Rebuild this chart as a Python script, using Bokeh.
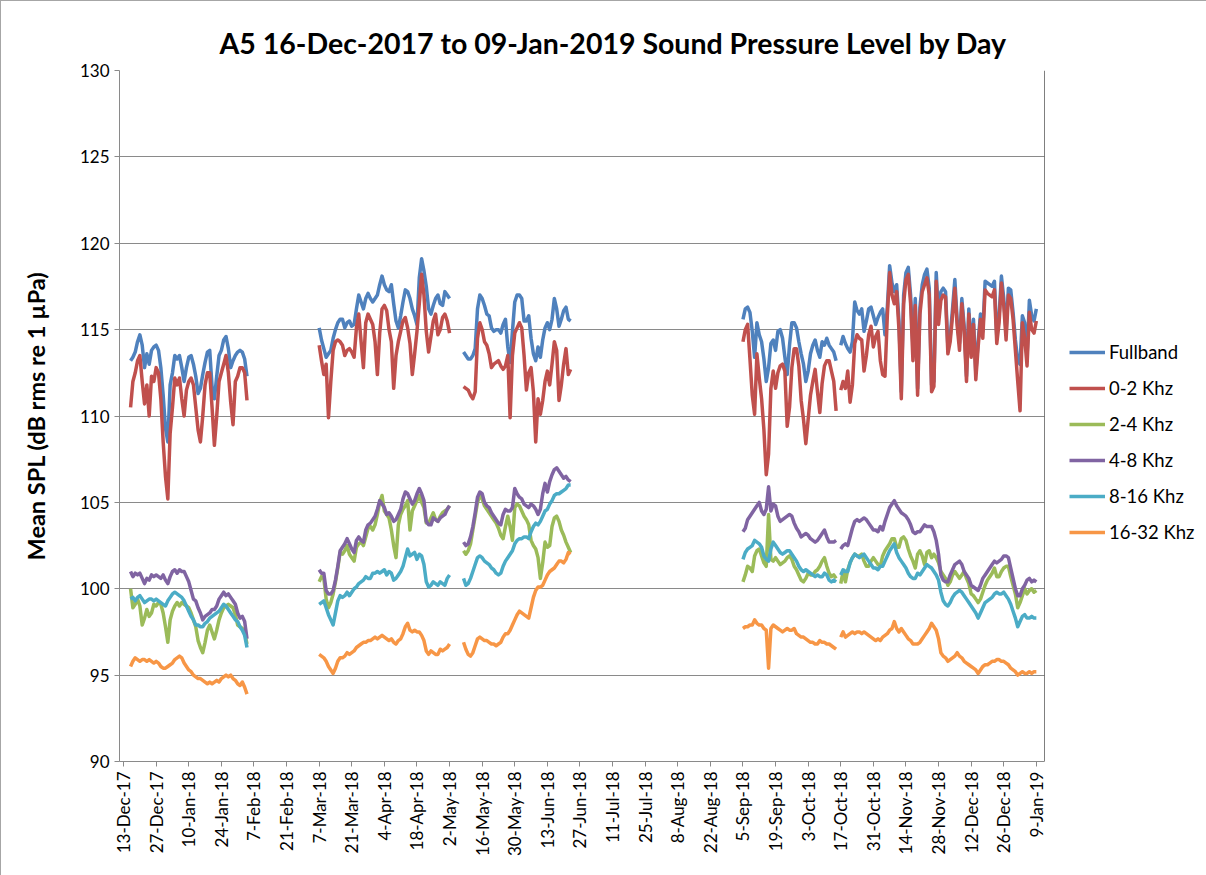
import numpy as np
import pandas as pd
from bokeh.plotting import figure
from bokeh.layouts import row
from bokeh.models import Legend, LegendItem, FixedTicker, Range1d, Span, ColumnDataSource
from bokeh.embed import file_html
from bokeh.resources import INLINE

# Recording periods (first day of each continuous block of daily means)
SEG_STARTS = ["2017-12-16", "2018-03-07", "2018-05-08", "2018-09-05", "2018-10-17"]

# ---- Fullband ----
FULL_1 = [113.2, 113.4, 113.7, 114.3, 114.7, 114.1, 112.8, 113.6, 113.0, 113.8,
          114.0, 114.1, 113.8, 112.8, 111.2, 109.3, 108.5, 111.8, 112.5, 113.5,
          113.3, 113.5, 112.8, 112.0, 112.8, 113.4, 113.5, 113.0, 112.3, 111.3,
          111.6, 112.4, 113.1, 113.7, 113.8, 111.7, 111.0, 112.3, 113.5, 113.8,
          114.4, 114.6, 113.9, 112.8, 113.2, 113.5, 113.7, 113.8, 113.7, 113.3, 112.3]
FULL_2 = [115.1, 114.4, 113.9, 113.4, 113.6, 113.8, 114.5, 115.0, 115.4, 115.6,
          115.6, 115.1, 115.4, 115.5, 115.2, 115.3, 116.2, 117.0, 116.6, 116.2,
          116.8, 117.1, 116.8, 116.6, 116.8, 117.0, 117.6, 118.1, 117.6, 117.3,
          117.2, 117.6, 116.5, 115.5, 115.1, 115.8, 116.6, 117.3, 117.2, 116.8,
          116.2, 115.8, 115.3, 118.0, 119.1, 118.4, 117.5, 116.2, 115.9, 116.4,
          116.8, 117.0, 116.5, 116.4, 117.2, 117.0, 116.8]
FULL_3 = [113.7, 113.5, 113.3, 113.3, 113.5, 113.9, 116.2, 117.0, 116.8, 116.4,
          115.9, 115.8, 115.1, 114.9, 115.0, 115.0, 114.8, 115.3, 115.6, 114.0,
          113.1, 114.9, 116.6, 117.0, 117.0, 116.8, 115.5, 115.5, 115.8, 114.5,
          113.6, 113.2, 114.0, 113.4, 114.4, 115.1, 115.4, 115.0, 115.6, 116.8,
          116.2, 115.2, 115.6, 116.1, 116.3, 115.6, 115.5]
FULL_4 = [115.6, 116.2, 116.3, 116.0, 114.9, 113.4, 115.4, 114.7, 114.3, 113.3,
          112.0, 112.8, 114.2, 114.4, 113.8, 114.9, 115.0, 114.5, 113.4, 112.4,
          114.1, 115.4, 115.4, 115.1, 114.3, 113.6, 113.0, 112.0, 112.6, 113.6,
          114.1, 114.4, 113.8, 113.4, 114.3, 114.1, 114.5, 114.1, 113.9, 113.7, 113.2]
FULL_5 = [114.1, 114.6, 114.2, 113.9, 113.7, 114.3, 116.6, 116.1, 115.9, 116.2,
          114.9, 115.5, 116.2, 116.3, 115.8, 115.3, 115.7, 116.0, 116.2, 114.7,
          116.3, 118.7, 117.7, 117.2, 117.6, 115.5, 111.4, 117.0, 118.3, 118.6,
          117.0, 114.0, 116.8, 111.6, 116.3, 117.6, 118.2, 118.5, 117.4, 111.8,
          112.0, 118.3, 115.7, 117.2, 117.4, 117.2, 114.0, 114.6, 116.2, 117.9,
          115.5, 114.2, 116.8, 115.2, 112.3, 116.2, 113.8, 115.6, 112.5, 114.3,
          115.9, 114.9, 117.8, 117.7, 117.6, 117.5, 117.8, 114.6, 115.8, 118.1,
          116.8, 114.8, 117.4, 117.3, 116.0, 114.4, 113.2, 113.0, 115.8, 115.4,
          113.4, 116.7, 115.8, 115.5, 116.2]

# ---- 0-2 kHz ----
B02_1 = [110.5, 112.0, 112.5, 113.2, 113.5, 112.0, 110.7, 111.8, 110.0, 112.3,
         112.0, 112.8, 112.5, 111.0, 108.5, 106.5, 105.2, 109.0, 110.5, 112.2,
         111.8, 112.2, 111.0, 110.0, 111.5, 112.0, 112.2, 111.8, 110.5, 109.2,
         108.5, 110.0, 111.8, 112.5, 112.5, 110.5, 108.3, 110.0, 112.0, 112.5,
         113.0, 113.5, 112.5, 110.8, 109.5, 112.0, 112.3, 112.8, 112.8, 112.5, 110.9]
B02_2 = [114.1, 113.2, 112.4, 113.0, 109.9, 112.0, 113.8, 114.3, 114.4, 114.3,
         114.1, 113.5, 113.8, 113.9, 113.7, 113.4, 115.1, 115.9, 114.3, 112.8,
         115.4, 115.9, 115.6, 115.3, 114.3, 112.4, 114.8, 116.2, 116.4, 116.1,
         115.0, 114.3, 111.6, 113.5, 114.3, 114.9, 115.5, 115.7, 115.1, 114.2,
         112.4, 113.6, 114.9, 116.5, 118.2, 117.0, 114.9, 113.7, 114.6, 115.5,
         115.9, 114.7, 115.0, 115.7, 115.9, 115.5, 114.8]
B02_3 = [111.7, 111.6, 111.5, 111.2, 111.0, 111.4, 114.5, 115.4, 115.0, 114.3,
         114.1, 113.6, 112.8, 113.0, 113.1, 113.2, 112.9, 112.7, 112.9, 113.5,
         109.9, 113.5, 114.8, 115.1, 115.4, 115.1, 113.5, 111.5, 112.5, 112.8,
         111.4, 108.5, 111.0, 110.1, 110.9, 112.0, 112.6, 111.8, 113.0, 114.3,
         113.8, 110.9, 111.8, 113.0, 113.9, 112.4, 112.7]
B02_4 = [114.3, 115.0, 115.3, 113.3, 111.2, 110.1, 113.6, 112.2, 111.0, 109.2,
         106.6, 107.8, 111.6, 112.6, 111.6, 112.5, 112.9, 113.0, 112.6, 109.4,
         110.5, 112.8, 113.9, 113.9, 112.9, 110.9, 109.8, 108.4, 109.8, 111.2,
         112.0, 112.7, 111.4, 110.2, 111.9, 112.9, 113.2, 113.2, 112.6, 112.0, 110.3]
B02_5 = [111.5, 112.0, 111.6, 112.6, 110.8, 111.8, 114.2, 114.7, 114.5, 114.4,
         112.6, 113.5, 114.7, 115.2, 114.0, 114.6, 114.9, 113.2, 112.4, 112.3,
         115.8, 118.3, 117.0, 116.5, 117.2, 115.0, 111.0, 116.5, 117.9, 118.2,
         116.5, 113.2, 116.4, 111.2, 115.9, 117.2, 117.6, 118.0, 117.0, 111.4,
         111.7, 117.8, 115.3, 116.7, 117.0, 116.9, 113.6, 114.3, 115.8, 117.4,
         115.2, 113.8, 116.5, 114.9, 112.0, 115.9, 113.4, 115.3, 112.1, 114.0,
         115.6, 114.5, 117.3, 117.1, 117.0, 116.9, 117.3, 114.2, 115.4, 117.7,
         116.4, 114.4, 117.0, 116.8, 115.6, 113.8, 112.0, 110.3, 115.4, 114.5,
         112.9, 116.0, 115.0, 114.8, 115.5]

# ---- 2-4 kHz ----
B24_1 = [100.0, 98.9, 99.1, 99.4, 99.0, 97.9, 98.3, 98.8, 98.4, 98.6,
         99.1, 99.0, 99.2, 99.1, 98.6, 97.8, 96.9, 98.2, 98.7, 99.0,
         99.2, 99.0, 99.2, 99.1, 99.0, 98.9, 98.6, 98.2, 97.8, 97.0,
         96.6, 96.3, 96.9, 97.6, 97.9, 97.5, 97.1, 97.6, 98.2, 98.6,
         98.9, 99.0, 99.1, 99.0, 98.9, 98.5, 97.9, 97.8, 97.7, 97.5, 96.8]
B24_2 = [100.4, 100.7, 100.6, 99.4, 98.9, 99.2, 99.7, 100.4, 101.2, 102.1,
         102.0, 102.2, 102.5, 102.0, 101.8, 101.6, 102.4, 102.6, 102.7, 102.5,
         103.0, 103.5, 103.6, 103.4, 103.7, 104.3, 105.0, 105.4, 104.5, 104.3,
         104.1, 103.4, 102.5, 101.8, 103.7, 104.3, 104.6, 104.8, 105.1, 103.4,
         104.5, 104.8, 105.1, 105.4, 105.0, 104.7, 103.8, 103.8, 104.1, 104.4,
         104.0, 103.9, 104.2, 104.4, 104.5, 104.6, 104.8]
B24_3 = [102.2, 102.0, 102.2, 102.6, 103.4, 104.2, 105.0, 105.4, 105.2, 104.8,
         104.6, 104.4, 104.2, 104.0, 103.8, 103.5, 103.1, 102.9, 103.6, 104.2,
         103.6, 102.8, 104.7, 104.9, 104.8, 104.5, 104.2, 104.0, 103.7, 102.8,
         102.5, 102.3, 101.8, 100.6, 101.5, 102.7, 102.4, 102.5, 103.6, 104.1,
         104.2, 103.9, 103.4, 103.1, 102.7, 102.4, 102.1]
B24_4 = [100.4, 100.8, 101.3, 101.2, 101.0, 101.9, 102.2, 102.3, 101.9, 101.5,
         101.3, 104.3, 101.7, 101.6, 101.8, 101.6, 101.4, 101.5, 101.6, 101.8,
         101.9, 101.7, 101.3, 101.1, 100.8, 100.5, 100.4, 100.6, 100.9, 100.8,
         100.8, 101.0, 101.1, 101.3, 101.6, 101.8, 101.3, 100.9, 100.7, 100.8, 100.6]
B24_5 = [100.3, 101.0, 100.4, 101.1, 101.5, 101.8, 102.0, 101.9, 101.9, 102.0,
         101.6, 101.3, 101.3, 101.6, 101.8, 101.6, 101.4, 101.3, 101.9, 102.2,
         102.4, 102.6, 102.9, 102.9, 102.4, 102.4, 102.9, 103.0, 102.8, 102.3,
         101.9, 101.6, 101.2, 102.0, 102.2, 101.9, 101.4, 102.1, 102.2, 101.8,
         102.0, 101.8, 101.5, 101.0, 100.8, 100.6, 100.2, 100.4, 100.8, 101.0,
         100.8, 100.6, 100.8, 101.0, 100.6, 100.3, 99.7, 99.6, 99.4, 99.2,
         99.4, 99.8, 100.2, 100.5, 100.7, 100.9, 101.2, 100.7, 100.7, 101.0,
         101.2, 101.3, 101.3, 100.7, 100.2, 99.7, 98.9, 99.2, 99.6, 100.0,
         99.7, 99.9, 100.0, 99.8, 99.9]

# ---- 4-8 kHz ----
B48_1 = [101.0, 100.7, 100.9, 100.8, 100.9, 100.6, 100.3, 100.6, 100.5, 100.8,
         100.7, 100.8, 100.7, 100.6, 100.8, 100.5, 100.3, 100.7, 101.0, 101.1,
         100.9, 101.1, 101.0, 101.0, 100.7, 100.4, 99.9, 99.4, 99.3, 98.9,
         98.6, 98.2, 98.4, 98.5, 98.6, 98.8, 98.8, 99.0, 99.4, 99.6,
         99.8, 99.6, 99.7, 99.5, 99.3, 99.1, 98.6, 98.3, 98.4, 98.1, 97.1]
B48_2 = [101.1, 100.9, 100.9, 99.9, 99.7, 99.7, 99.9, 100.5, 101.3, 102.2,
         102.4, 102.6, 102.9, 102.6, 102.3, 102.1, 102.8, 103.0, 102.8, 102.7,
         103.4, 103.7, 103.8, 104.0, 104.2, 104.6, 105.1, 104.9, 104.7, 104.3,
         104.4, 104.2, 103.9, 104.0, 104.3, 104.6, 105.2, 105.6, 105.5, 105.2,
         104.9, 105.1, 105.5, 105.8, 105.5, 105.1, 103.9, 103.7, 103.7, 104.1,
         104.0, 103.9, 104.1, 104.2, 104.3, 104.6, 104.8]
B48_3 = [102.7, 102.5, 102.6, 103.0, 103.6, 104.4, 105.3, 105.6, 105.5, 105.0,
         104.8, 104.7, 104.4, 104.2, 104.0, 103.8, 103.7, 104.3, 104.6, 104.5,
         104.5, 104.7, 105.8, 105.5, 105.3, 105.2, 104.9, 104.8, 104.7, 104.9,
         104.8, 104.6, 104.3, 104.6, 105.5, 106.1, 105.6, 106.2, 106.6, 106.9,
         107.0, 106.8, 106.6, 106.4, 106.5, 106.3, 106.2]
B48_4 = [103.3, 103.5, 104.0, 104.2, 104.4, 104.6, 104.8, 105.0, 104.5, 104.3,
         104.6, 105.9, 104.5, 104.9, 104.8, 104.2, 103.9, 104.0, 104.1, 104.2,
         104.3, 104.2, 103.8, 103.5, 103.3, 103.0, 103.1, 103.2, 103.1, 102.9,
         102.8, 102.7, 102.8, 103.0, 103.2, 103.4, 103.0, 102.7, 102.7, 102.7, 102.8]
B48_5 = [102.3, 102.5, 102.6, 102.5, 103.0, 103.5, 103.9, 104.0, 103.9, 104.0,
         104.1, 104.0, 103.8, 103.6, 103.4, 103.4, 103.3, 103.6, 103.4, 103.9,
         104.3, 104.7, 104.9, 105.1, 104.8, 104.6, 104.4, 104.3, 104.2, 104.0,
         103.7, 103.3, 103.2, 103.3, 103.3, 103.5, 103.7, 103.6, 103.6, 103.6,
         103.3, 102.8, 102.0, 100.8, 100.5, 100.4, 100.4, 100.8, 101.1, 101.4,
         101.5, 101.6, 101.4, 101.0, 100.8, 100.6, 100.2, 100.1, 100.0, 99.9,
         100.2, 100.6, 100.8, 101.0, 101.2, 101.4, 101.6, 101.5, 101.6, 101.7,
         101.9, 101.9, 101.8, 101.2, 100.6, 100.0, 99.6, 99.6, 100.0, 100.2,
         100.5, 100.6, 100.4, 100.5, 100.4]

# ---- 8-16 kHz ----
B816_1 = [99.4, 99.5, 99.3, 99.5, 99.6, 99.4, 99.2, 99.3, 99.4, 99.4,
          99.3, 99.4, 99.3, 99.2, 99.1, 99.0, 99.3, 99.5, 99.7, 99.8,
          99.7, 99.6, 99.5, 99.3, 99.0, 98.7, 98.4, 98.2, 97.9, 97.9,
          97.8, 97.8, 98.0, 98.1, 98.3, 98.4, 98.5, 98.6, 98.7, 98.9,
          99.1, 99.0, 98.8, 98.6, 98.4, 98.2, 98.1, 97.8, 97.6, 97.3, 96.6]
B816_2 = [99.1, 99.2, 99.3, 98.9, 98.5, 98.2, 97.9, 98.6, 99.3, 99.6,
          99.5, 99.6, 99.8, 99.6, 99.8, 100.0, 100.1, 100.3, 100.4, 100.5,
          100.7, 100.6, 100.6, 100.9, 100.9, 101.0, 100.9, 101.0, 101.1, 100.8,
          101.0, 100.9, 100.5, 100.6, 100.8, 101.0, 101.3, 101.8, 102.3, 101.9,
          102.0, 102.1, 101.7, 102.0, 101.9, 101.4, 100.4, 100.1, 100.2, 100.4,
          100.3, 100.2, 100.4, 100.3, 100.2, 100.6, 100.8]
B816_3 = [100.6, 100.2, 100.3, 100.6, 101.0, 101.4, 101.8, 101.9, 101.8, 101.6,
          101.5, 101.4, 101.2, 101.1, 100.9, 100.8, 100.9, 101.3, 101.6, 101.8,
          102.0, 102.2, 102.6, 102.8, 102.9, 102.9, 103.0, 103.0, 102.9, 103.3,
          103.6, 103.8, 103.7, 103.9, 104.2, 104.5, 104.6, 104.9, 105.1, 105.4,
          105.5, 105.5, 105.6, 105.7, 105.8, 106.0, 106.0]
B816_4 = [101.7, 102.1, 102.3, 102.4, 102.5, 102.8, 102.7, 102.6, 102.4, 101.9,
          101.7, 101.6, 102.3, 102.7, 102.5, 102.3, 102.1, 102.0, 102.1, 102.2,
          102.2, 102.0, 101.8, 101.6, 101.3, 101.1, 101.0, 101.1, 101.0, 100.9,
          100.8, 100.7, 100.8, 100.7, 100.7, 100.9, 100.8, 100.5, 100.4, 100.5, 100.4]
B816_5 = [100.8, 101.1, 101.0, 101.0, 101.5, 101.8, 102.0, 101.9, 101.8, 101.9,
          102.0, 101.8, 101.6, 101.4, 101.2, 101.2, 101.1, 101.3, 101.3, 101.6,
          101.9, 102.2, 102.4, 102.6, 102.1, 101.8, 101.6, 101.4, 101.2, 100.9,
          100.7, 100.6, 100.6, 100.9, 100.8, 101.0, 101.2, 101.4, 101.3, 101.2,
          101.0, 100.8, 100.5, 99.8, 99.3, 99.1, 99.0, 99.2, 99.5, 99.7,
          99.8, 99.9, 99.8, 99.6, 99.4, 99.2, 99.0, 98.8, 98.6, 98.3,
          98.6, 98.9, 99.2, 99.3, 99.4, 99.5, 99.7, 99.8, 99.7, 99.7,
          99.8, 99.6, 99.4, 99.1, 98.7, 98.3, 97.8, 98.1, 98.4, 98.5,
          98.3, 98.3, 98.4, 98.3, 98.3]

# ---- 16-32 kHz ----
B1632_1 = [95.5, 95.8, 96.0, 95.9, 95.8, 95.9, 95.9, 95.8, 95.9, 95.8,
           95.7, 95.8, 95.7, 95.5, 95.4, 95.4, 95.5, 95.6, 95.7, 95.9,
           96.0, 96.1, 96.0, 95.7, 95.5, 95.3, 95.2, 95.0, 94.9, 94.8,
           94.8, 94.7, 94.6, 94.5, 94.6, 94.5, 94.6, 94.7, 94.6, 94.8,
           94.9, 95.0, 94.9, 95.0, 94.8, 94.7, 94.5, 94.4, 94.6, 94.3, 93.9]
B1632_2 = [96.2, 96.1, 96.0, 95.8, 95.5, 95.3, 95.1, 95.4, 95.8, 96.0,
           96.0, 96.1, 96.3, 96.2, 96.3, 96.4, 96.6, 96.7, 96.8, 96.9,
           96.9, 97.0, 97.0, 97.1, 97.2, 97.1, 97.2, 97.3, 97.2, 97.1,
           97.0, 97.1, 96.9, 96.8, 97.0, 97.1, 97.4, 97.8, 98.0, 97.6,
           97.5, 97.6, 97.5, 97.5, 97.3, 97.0, 96.4, 96.2, 96.4, 96.3,
           96.2, 96.2, 96.5, 96.4, 96.5, 96.6, 96.8]
B1632_3 = [96.9, 96.5, 96.2, 96.1, 96.3, 96.7, 97.1, 97.2, 97.1, 97.0,
           97.0, 96.9, 96.8, 96.8, 96.7, 96.8, 96.9, 97.2, 97.4, 97.4,
           97.6, 97.9, 98.2, 98.5, 98.7, 98.6, 98.5, 98.4, 98.3, 98.9,
           99.5, 99.9, 100.1, 100.1, 100.2, 100.5, 100.8, 101.0, 101.1, 101.2,
           101.4, 101.6, 101.6, 101.5, 101.7, 102.1, 102.0]
B1632_4 = [97.7, 97.8, 97.8, 97.9, 97.9, 98.2, 98.0, 97.9, 97.9, 97.7,
           97.6, 95.4, 97.7, 97.9, 97.8, 97.7, 97.6, 97.5, 97.6, 97.7,
           97.6, 97.6, 97.7, 97.4, 97.3, 97.2, 97.2, 97.1, 97.0, 96.9,
           96.9, 96.8, 96.8, 97.0, 96.9, 96.9, 96.8, 96.8, 96.7, 96.6, 96.5]
B1632_5 = [97.2, 97.5, 97.2, 97.3, 97.4, 97.5, 97.4, 97.5, 97.5, 97.4,
           97.5, 97.4, 97.3, 97.2, 97.1, 97.0, 97.1, 97.0, 97.2, 97.3,
           97.4, 97.6, 97.7, 98.1, 97.7, 97.5, 97.7, 97.5, 97.3, 97.1,
           97.0, 96.8, 96.8, 96.8, 96.9, 97.1, 97.3, 97.5, 97.7, 98.0,
           97.8, 97.6, 97.1, 96.3, 96.1, 96.0, 95.8, 95.9, 96.0, 96.1,
           96.3, 96.1, 96.0, 95.8, 95.7, 95.6, 95.5, 95.4, 95.3, 95.1,
           95.3, 95.5, 95.6, 95.6, 95.7, 95.8, 95.8, 95.9, 95.9, 95.8,
           95.8, 95.7, 95.6, 95.4, 95.3, 95.2, 95.0, 95.1, 95.2, 95.1,
           95.1, 95.2, 95.1, 95.2, 95.2]

SERIES_NAMES = ["Fullband", "0-2 Khz", "2-4 Khz", "4-8 Khz", "8-16 Khz", "16-32 Khz"]
SERIES_COLORS = ["#4F81BD", "#C0504D", "#9BBB59", "#8064A2", "#4BACC6", "#F79646"]
SERIES_BLOCKS = [
    [FULL_1, FULL_2, FULL_3, FULL_4, FULL_5],
    [B02_1, B02_2, B02_3, B02_4, B02_5],
    [B24_1, B24_2, B24_3, B24_4, B24_5],
    [B48_1, B48_2, B48_3, B48_4, B48_5],
    [B816_1, B816_2, B816_3, B816_4, B816_5],
    [B1632_1, B1632_2, B1632_3, B1632_4, B1632_5],
]

TICK_START = "2017-12-13"
TICK_COUNT = 29
Y_TICKS = [90, 95, 100, 105, 110, 115, 120, 125, 130]

FONT = "Lato"
X_START = "2017-12-11 06:00"
X_END = "2019-01-12 12:00"
LINE_W = 3.5


def to_ms(ts):
    return pd.Timestamp(ts).value / 1e6


# one continuous daily axis; days without data stay NaN so the lines break
days = pd.date_range("2017-12-16", "2019-01-09", freq="D")
x_ms = days.values.astype("datetime64[ms]").astype(np.int64).astype(float)

cols = {"x": x_ms}
for k, blocks in enumerate(SERIES_BLOCKS):
    y = np.full(len(days), np.nan)
    for start, vals in zip(SEG_STARTS, blocks):
        i0 = days.get_loc(pd.Timestamp(start))
        y[i0:i0 + len(vals)] = vals
    cols[f"s{k}"] = y
source = ColumnDataSource(cols)

p = figure(width=1045, height=875, output_backend="svg", toolbar_location=None,
           x_range=Range1d(to_ms(X_START), to_ms(X_END)),
           y_range=Range1d(90, 130),
           min_border_left=118, min_border_right=2,
           min_border_top=69, min_border_bottom=115)

p.background_fill_color = "white"
p.border_fill_alpha = 0
p.outline_line_color = None

for k, color in enumerate(SERIES_COLORS):
    p.line("x", f"s{k}", source=source, line_color=color, line_width=LINE_W,
           line_join="round")

# right edge of the plotting area
p.add_layout(Span(location=to_ms(X_END), dimension="height",
                  line_color="#000000", line_width=1))

# x axis: a tick every two weeks
tick_dates = pd.date_range(TICK_START, periods=TICK_COUNT, freq="14D")
tick_ms = [to_ms(t) for t in tick_dates]
tick_labels = [t.strftime("%-d-%b-%y") for t in tick_dates]
p.xaxis.ticker = FixedTicker(ticks=tick_ms)
p.xaxis.major_label_overrides = dict(zip(tick_ms, tick_labels))
p.xaxis.major_label_orientation = np.pi / 2
p.xgrid.grid_line_color = None

p.yaxis.ticker = FixedTicker(ticks=Y_TICKS)
p.ygrid.ticker = FixedTicker(ticks=Y_TICKS)
p.ygrid.grid_line_color = "#8a8a8a"
p.ygrid.grid_line_width = 1

for ax in (p.xaxis, p.yaxis):
    ax.axis_line_color = "#8a8a8a"
    ax.major_tick_line_color = "#8a8a8a"
    ax.major_tick_out = 5
    ax.major_tick_in = 0
    ax.minor_tick_line_color = None
    ax.major_label_text_font = FONT
    ax.major_label_text_font_size = "17px"
    ax.major_label_text_color = "#000000"
    ax.major_label_standoff = 5

p.yaxis.axis_label = "Mean SPL (dB rms re 1 \u00b5Pa)"
p.yaxis.axis_label_text_font = FONT
p.yaxis.axis_label_text_font_style = "bold"
p.yaxis.axis_label_text_font_size = "23.5px"
p.yaxis.axis_label_text_color = "#000000"
p.yaxis.axis_label_standoff = 27

p.title.text = "A5 16-Dec-2017 to 09-Jan-2019 Sound Pressure Level by Day"
p.title.text_font = FONT
p.title.text_font_style = "bold"
p.title.text_font_size = "28.5px"
p.title.text_color = "#000000"
p.title.align = "left"
p.title.offset = 100
p.title.standoff = 22

# legend panel to the right of the plotting area; its lines share the data
# but the panel's ranges keep them out of view, so only the key is seen
lp = figure(width=161, height=875, output_backend="svg", toolbar_location=None,
            x_range=Range1d(0, 1), y_range=Range1d(0, 1),
            x_axis_location=None, y_axis_location=None, min_border=0)
lp.outline_line_color = None
lp.grid.grid_line_color = None
lp.background_fill_alpha = 0
lp.border_fill_alpha = 0

items = []
for k, (name, color) in enumerate(zip(SERIES_NAMES, SERIES_COLORS)):
    g = lp.line("x", f"s{k}", source=source, line_color=color, line_width=LINE_W)
    items.append(LegendItem(label=name, renderers=[g]))

legend = Legend(items=items, location=(23, 218))
legend.label_text_font = FONT
legend.label_text_font_size = "18.5px"
legend.label_text_color = "#000000"
legend.glyph_width = 36
legend.glyph_height = 20
legend.spacing = 14
legend.padding = 10
legend.margin = 0
legend.label_standoff = 4
legend.border_line_color = None
legend.background_fill_alpha = 0
lp.add_layout(legend, "center")

layout = row(p, lp, spacing=0)
# thin frame around the whole chart area
layout.styles = {"border": "1px solid #a6a6a6", "box-sizing": "border-box",
                 "background-color": "white"}
open("out.html", "w").write(file_html(layout, INLINE))
